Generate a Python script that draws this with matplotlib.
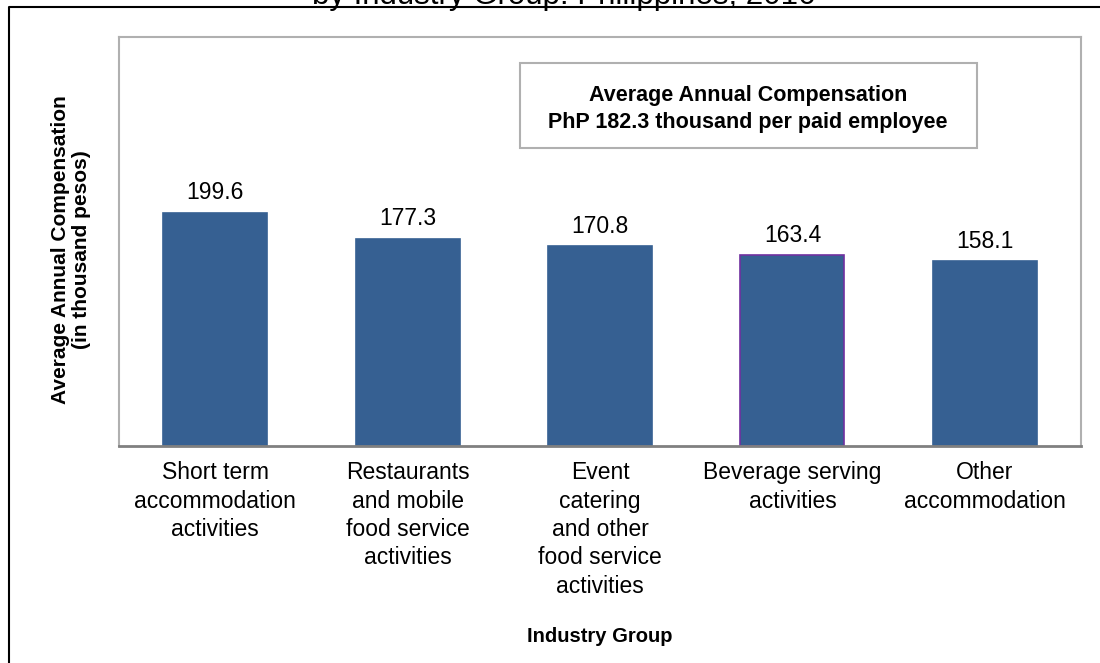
import matplotlib.pyplot as plt
from matplotlib.lines import Line2D
from matplotlib.patches import Rectangle

# data
categories = ["Short term\naccommodation\nactivities",
              "Restaurants\nand mobile\nfood service\nactivities",
              "Event\ncatering\nand other\nfood service\nactivities",
              "Beverage serving\nactivities",
              "Other\naccommodation"]
compensation = [199.6, 177.3, 170.8, 163.4, 158.1]
value_labels = ["199.6", "177.3", "170.8", "163.4", "158.1"]

plt.rcParams["font.family"] = ["Liberation Sans", "DejaVu Sans"]

fig = plt.figure(figsize=(11, 6.63), dpi=100)
ax = fig.add_axes([119 / 1100, 1 - 446 / 663, 962 / 1100, 409 / 663])

edges = ["#366092"] * len(compensation)
edges[3] = "#7030A0"
bars = ax.bar(range(len(compensation)), compensation, width=0.54,
              color="#366092", edgecolor=edges, linewidth=1.2)
ax.bar_label(bars, labels=value_labels, padding=6, fontsize=16.5)

ax.set_xlim(-0.5, len(compensation) - 0.5)
ax.set_ylim(0, 350)
ax.set_yticks([])
ax.set_xticks(range(len(compensation)))
ax.set_xticklabels(categories, fontsize=16.5, linespacing=1.3)
ax.tick_params(axis="x", length=0, pad=11)

for side in ["left", "top", "right"]:
    ax.spines[side].set_color("#B0B0B0")
    ax.spines[side].set_linewidth(1.5)
ax.spines["bottom"].set_color("#808080")
ax.spines["bottom"].set_linewidth(2)

# summary box
fig.add_artist(Rectangle((520 / 1100, 1 - 148 / 663), 457 / 1100, 85 / 663,
                         transform=fig.transFigure, facecolor="white",
                         edgecolor="#B0B0B0", linewidth=1.5))
fig.text(748 / 1100, 1 - 109 / 663,
         "Average Annual Compensation\nPhP 182.3 thousand per paid employee",
         ha="center", va="center", fontsize=15.5, fontweight="bold",
         linespacing=1.4)

# axis titles
fig.text(71 / 1100, 1 - 250 / 663,
         "Average Annual Compensation\n(in thousand pesos)",
         rotation=90, ha="center", va="center", fontsize=15,
         fontweight="bold", linespacing=1.1)
fig.text(600 / 1100, 1 - 637 / 663, "Industry Group", ha="center",
         va="center", fontsize=14.5, fontweight="bold")

# chart title, cut off at the top
fig.text(564 / 1100, 1 - 4 / 663, "by Industry Group: Philippines, 2016",
         ha="center", va="baseline", fontsize=22.5)

# outer border
fig.add_artist(Line2D([9 / 1100, 9 / 1100, 1], [0, 1 - 7 / 663, 1 - 7 / 663],
                      transform=fig.transFigure, color="black", linewidth=1.5))

plt.savefig("out.png", dpi=100)
